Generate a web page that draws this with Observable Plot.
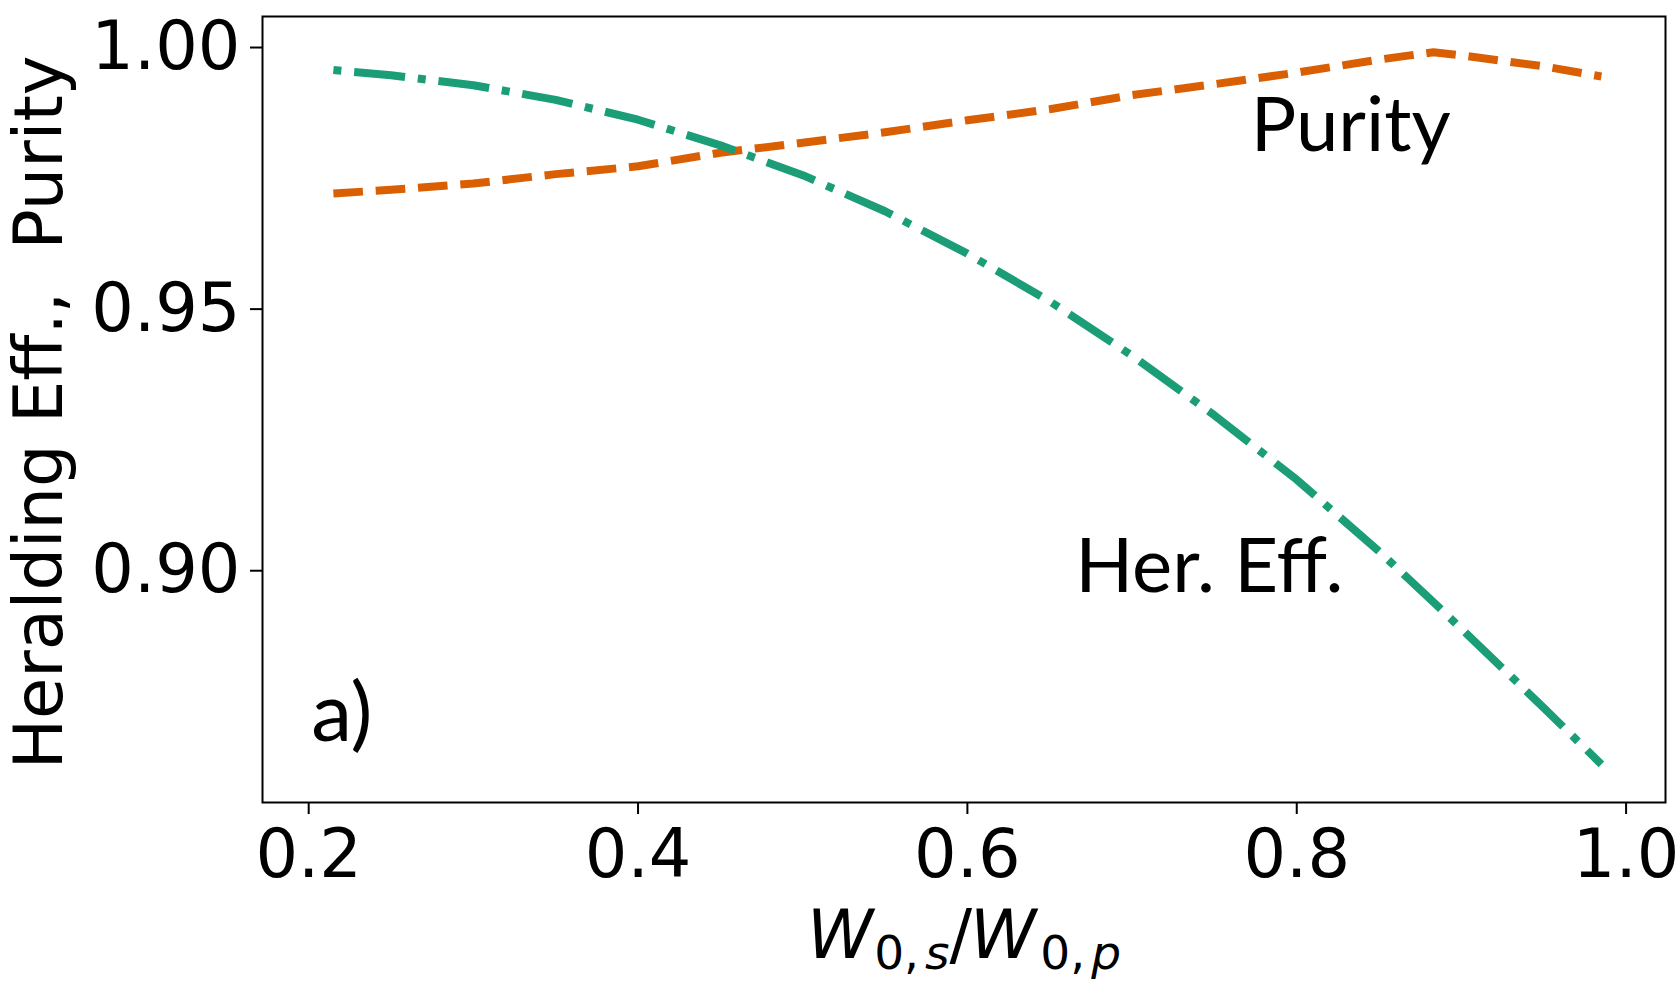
<!DOCTYPE html>
<html>
<head>
<meta charset="utf-8">
<script src="https://cdn.jsdelivr.net/npm/d3@7"></script>
<script src="https://cdn.jsdelivr.net/npm/@observablehq/plot@0.6"></script>
<style>
  html, body { margin: 0; padding: 0; background: #fff; }
  svg { display: block; }
</style>
</head>
<body>
<div id="chart"></div>
<script>
// ---- data ----
const widthRatio   = [0.215, 0.25, 0.30, 0.35, 0.40, 0.45, 0.50, 0.55, 0.60, 0.65, 0.70, 0.75, 0.80, 0.85, 0.883, 0.90, 0.95, 0.985];
const heraldingEff = [0.9957, 0.9947, 0.9928, 0.9900, 0.9862, 0.9813, 0.9756, 0.9687, 0.9606, 0.9515, 0.9411, 0.9297, 0.9174, 0.9037, 0.8940, 0.8889, 0.8738, 0.8630];
const purity       = [0.9721, 0.9728, 0.9740, 0.9758, 0.9773, 0.9799, 0.9818, 0.9838, 0.9861, 0.9882, 0.9909, 0.9930, 0.9952, 0.9977, 0.9991, 0.9985, 0.9964, 0.99446];

const xTicks = [0.2, 0.4, 0.6, 0.8, 1.0];
const yTicks = [0.90, 0.95, 1.00];

const curveLabelText = ["Purity", "Her. Eff."];
const curveLabelX    = [0.772, 0.6655];
const curveLabelY    = [0.9803, 0.8959];

const panelLabel  = ["a)"];
const panelLabelX = [0.2015];
const panelLabelY = [0.8675];

const yLabel = "Heralding Eff.,\u00a0 Purity";
const xLabel = "W0,s/W0,p";

// ---- tables built from the arrays ----
const herData = widthRatio.map((x, i) => ({x, y: heraldingEff[i]}));
const purData = widthRatio.map((x, i) => ({x, y: purity[i]}));
const curveLabels = curveLabelText.map((t, i) => ({x: curveLabelX[i], y: curveLabelY[i], text: t}));
const panelLabels = panelLabel.map((t, i) => ({x: panelLabelX[i], y: panelLabelY[i], text: t}));

const lw = 8;
const fs = 67;

const chart = Plot.plot({
  width: 1678,
  height: 986,
  marginLeft: 262,
  marginRight: 13,
  marginTop: 16,
  marginBottom: 184,
  style: {fontFamily: "DejaVu Sans", fontSize: fs + "px", color: "#000", background: "#fff", overflow: "visible"},
  x: {domain: [0.17195, 1.02393]},
  y: {domain: [0.8557, 1.00593]},
  marks: [
    Plot.axisX({ticks: xTicks, tickFormat: d3.format(".1f"), tickSize: 12, tickPadding: 15, strokeWidth: 2, label: null, fontSize: fs}),
    Plot.axisY({ticks: yTicks, tickFormat: d3.format(".2f"), tickSize: 12, tickPadding: 10, strokeWidth: 2, label: null, fontSize: fs}),
    Plot.line(purData, {x: "x", y: "y", stroke: "#d95f02", strokeWidth: lw,
      strokeDasharray: `${3.7 * lw},${1.6 * lw}`, strokeLinecap: "butt", strokeLinejoin: "round"}),
    Plot.line(herData, {x: "x", y: "y", stroke: "#1b9e77", strokeWidth: lw,
      strokeDasharray: `${6.4 * lw},${1.6 * lw},${lw},${1.6 * lw}`, strokeDashoffset: 6.4 * lw + 1.6 * lw,
      strokeLinecap: "butt", strokeLinejoin: "round"}),
    Plot.frame({stroke: "#000", strokeWidth: 2}),
    Plot.text(curveLabels, {x: "x", y: "y", text: "text", textAnchor: "start", lineAnchor: "bottom",
      fontFamily: "Lato", fontSize: 76, fill: "#000"}),
    Plot.text(panelLabels, {x: "x", y: "y", text: "text", textAnchor: "start", lineAnchor: "bottom",
      fontFamily: "Lato", fontSize: 82, fill: "#000"}),
    Plot.text([yLabel], {text: d => d, frameAnchor: "left", rotate: -90, textAnchor: "middle", lineAnchor: "bottom",
      dx: -201, dy: 3, fontSize: fs, fill: "#000"}),
    Plot.text([xLabel], {text: d => d, frameAnchor: "bottom", textAnchor: "middle", lineAnchor: "bottom",
      dy: 155, fontSize: fs, fill: "#000"})
  ]
});

document.getElementById("chart").appendChild(chart);

// Render the x label as math-style text (italic W with subscripts)
const t = d3.select(chart).selectAll("text").filter(function() { return this.textContent === xLabel; });
t.text(null);
const sub = 47, shift = 11;
const pieces = [
  {s: "W", italic: true, size: fs, dy: 0},
  {s: "0", italic: false, size: sub, dy: shift, dx: 1},
  {s: ",", italic: false, size: sub, dy: 0},
  {s: "s", italic: true, size: sub, dy: 0, dx: 6},
  {s: "/", italic: false, size: fs, dy: -shift, dx: 0},
  {s: "W", italic: true, size: fs, dy: 0, dx: -2},
  {s: "0", italic: false, size: sub, dy: shift, dx: 4},
  {s: ",", italic: false, size: sub, dy: 0},
  {s: "p", italic: true, size: sub, dy: 0, dx: 6}
];
for (const p of pieces) {
  t.append("tspan")
    .attr("font-style", p.italic ? "italic" : "normal")
    .attr("font-size", p.size)
    .attr("dy", p.dy)
    .attr("dx", p.dx || 0)
    .text(p.s);
}
</script>
</body>
</html>
